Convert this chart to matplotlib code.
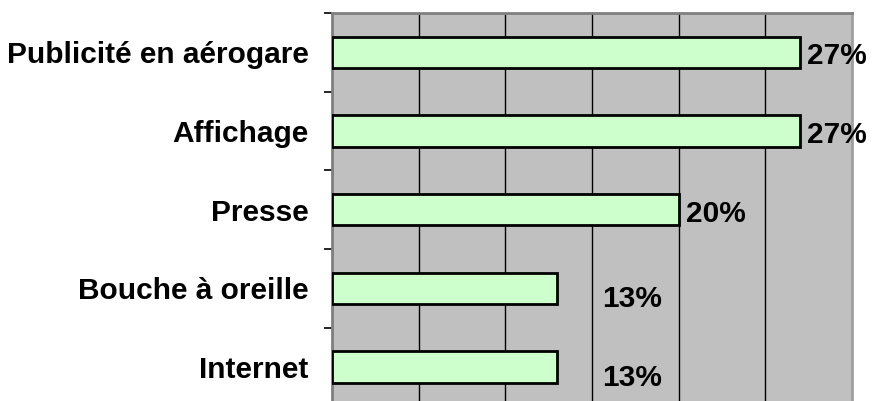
import matplotlib
matplotlib.use("Agg")
import matplotlib.pyplot as plt
from matplotlib.ticker import MultipleLocator, FixedLocator

# data
categories = ["Publicité en aérogare", "Affichage", "Presse", "Bouche à oreille", "Internet"]
values = [27, 27, 20, 13, 13]
labels = ["27%", "27%", "20%", "13%", "13%"]

plt.rcParams['font.family'] = ['Liberation Sans', 'DejaVu Sans']

fig = plt.figure(figsize=(8.72, 4.01), dpi=100)
ax = fig.add_axes([332 / 872, -5.5 / 401, 520 / 872, 393.5 / 401])
ax.set_facecolor("#C0C0C0")

ypos = list(range(len(categories)))
ax.barh(ypos, values, height=0.4, color="#CCFFCC", edgecolor="black",
        linewidth=2, zorder=3)

# label offsets in pixels (dx, dy) - the short bars have their labels pushed out
label_offsets = [(7, -4), (7, -4), (7, -4), (45, -11), (45, -11)]
for y, v, lab, (dx, dy) in zip(ypos, values, labels, label_offsets):
    ax.annotate(lab, xy=(v, y), xytext=(dx * 0.72, dy * 0.72),
                textcoords="offset points", ha="left", va="center",
                fontsize=21.5, fontweight="bold", zorder=4)

ax.set_xlim(0, 30)
ax.set_ylim(len(categories) - 0.5, -0.5)
ax.xaxis.set_major_locator(MultipleLocator(5))
ax.grid(axis="x", color="black", linewidth=1, zorder=1)
ax.set_axisbelow(True)
ax.tick_params(axis="x", length=0, labelbottom=False)

ax.set_yticks(ypos)
ax.set_yticklabels(categories, fontsize=21.5, fontweight="bold")
ax.tick_params(axis="y", which="major", length=0, pad=17)
ax.yaxis.set_minor_locator(FixedLocator([i - 0.5 for i in range(len(categories) + 1)]))
ax.tick_params(axis="y", which="minor", length=6, width=1.2, color="black")

for side in ["left", "top", "bottom"]:
    ax.spines[side].set_color("#808080")
    ax.spines[side].set_linewidth(2)
ax.spines["right"].set_color("#A0A0A0")
ax.spines["right"].set_linewidth(2)

fig.savefig("out.png", dpi=100)
